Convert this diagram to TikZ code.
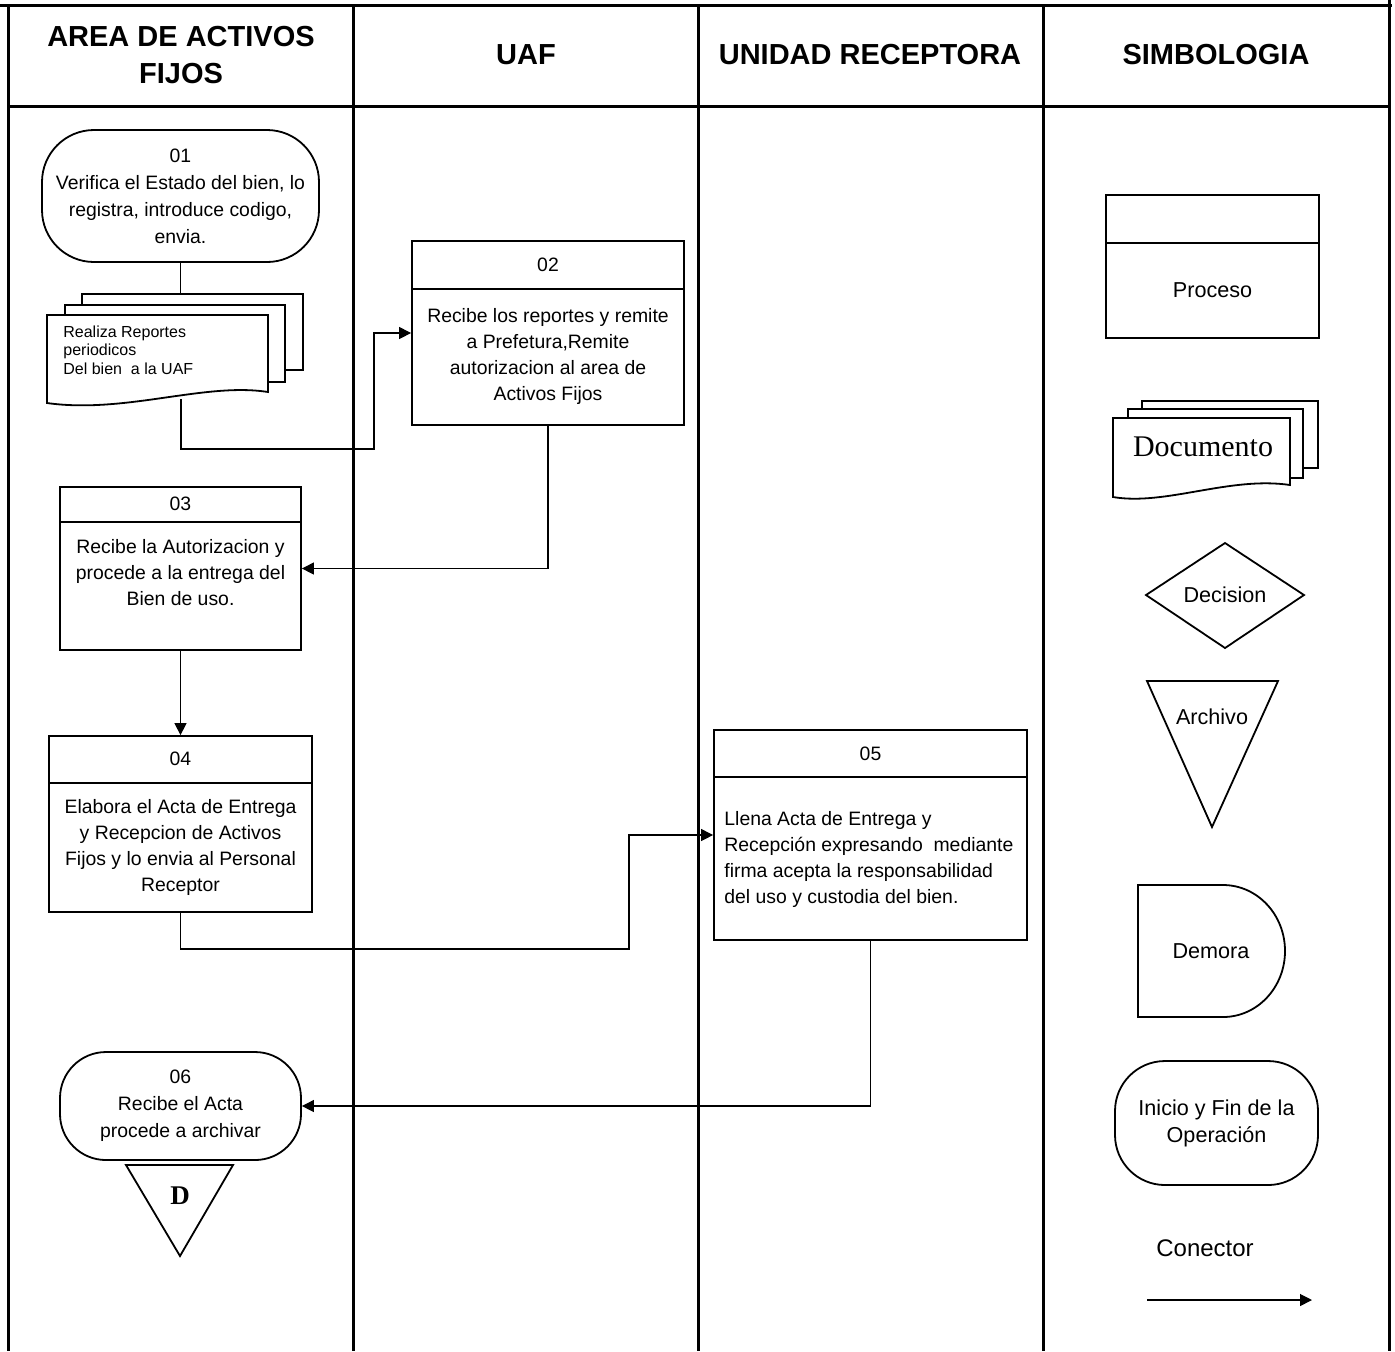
\documentclass[tikz,border=0pt]{standalone}
\usepackage{fontspec}
\setmainfont{Liberation Sans}
\newfontfamily\timesf{Liberation Serif}
\usetikzlibrary{arrows.meta}
\begin{document}
\begin{tikzpicture}[x=0.5pt,y=-0.5pt,
  frame/.style={line width=1.5pt},
  shp/.style={draw,line width=0.9pt,fill=white},
  pbox/.style={shp,rectangle,inner sep=0pt},
  term/.style={shp,rectangle,inner sep=0pt,align=center,font=\fontsize{9.7}{13.5}\selectfont},
  divl/.style={line width=0.9pt},
  conn/.style={line width=0.6pt,-{Triangle[length=6pt,width=6pt]}},
  plain/.style={line width=0.6pt},
  txt/.style={align=center,inner sep=0pt,font=\fontsize{9.7}{13}\selectfont},
  sym/.style={align=center,inner sep=0pt,font=\fontsize{10.8}{13.5}\selectfont},
  hdr/.style={align=center,inner sep=0pt,font=\fontsize{14.5}{18.5}\selectfont\bfseries},
  small/.style={align=left,inner sep=0pt,font=\fontsize{8}{9.2}\selectfont}]
\useasboundingbox (0,0) rectangle (1395,1351);

% ---------- frame ----------
\draw[frame] (0,5) -- (1392,5);
\draw[frame] (8,5) -- (8,1351);
\draw[frame] (1389,0) -- (1389,1351);
\draw[frame] (8,106) -- (1389,106);
\draw[frame] (353,5) -- (353,1351);
\draw[frame] (698,5) -- (698,1351);
\draw[frame] (1043,5) -- (1043,1351);

\node[hdr] (h1) at (181,55) {AREA DE ACTIVOS\\FIJOS};
\node[hdr] (h2) at (526,55) {UAF};
\node[hdr] (h3) at (870,55) {UNIDAD RECEPTORA};
\node[hdr] (h4) at (1216,55) {SIMBOLOGIA};

% ---------- 01 ----------
\node[term,rounded corners=26pt,minimum width=138.5pt,minimum height=66pt] (t01) at (180.5,196)
  {01\\Verifica el Estado del bien, lo\\registra, introduce codigo,\\envia.};

% document stack 1
\node[inner sep=0pt,minimum width=110.5pt,minimum height=38pt] (doc1back) at (192.5,332) {};
\draw[plain] (t01.south) -- (t01.south |- doc1back.north);
\draw[shp] (82,294) rectangle (303,370);
\draw[shp] (65,305) rectangle (285,382);
\draw[shp] (47,315) -- (268,315) -- (268,392) .. controls (205,382) and (125,414) .. (47,403) -- cycle;
\node[small,anchor=west] (doc1txt) at (63,350) {Realiza Reportes\\periodicos\\Del bien\ \ a la UAF};
\coordinate (doc1out) at (181,399);

% ---------- 02 ----------
\node[pbox,minimum width=136pt,minimum height=92pt] (b02) at (548,333) {};
\draw[divl] (412,289) -- (684,289);
\node[txt] (n02) at (548,265) {02};
\node[txt] (x02) at (548,356) {Recibe los reportes y remite\\a Prefetura,Remite\\autorizacion al area de\\Activos Fijos};

% ---------- 03 ----------
\node[pbox,minimum width=120.5pt,minimum height=81.5pt] (b03) at (180.5,568.5) {};
\draw[divl] (60,522) -- (301,522);
\node[txt] (n03) at (180.5,504) {03};
\node[txt] (x03) at (180.5,573) {Recibe la Autorizacion y\\procede a la entrega del\\Bien de uso.};

% ---------- 04 ----------
\node[pbox,minimum width=131.5pt,minimum height=88pt] (b04) at (180.5,824) {};
\draw[divl] (49,783) -- (312,783);
\node[txt] (n04) at (180.5,759) {04};
\node[txt] (x04) at (180.5,847) {Elabora el Acta de Entrega\\y Recepcion de Activos\\Fijos y lo envia al Personal\\Receptor};

% ---------- 05 ----------
\node[pbox,minimum width=156.5pt,minimum height=105pt] (b05) at (870.5,835) {};
\draw[divl] (714,777) -- (1027,777);
\node[txt] (n05) at (870.5,754) {05};
\node[txt,align=left,anchor=west] (x05) at (724,859) {Llena Acta de Entrega y\\Recepci\'on expresando\ \ mediante\\firma acepta la responsabilidad\\del uso y custodia del bien.};

% ---------- 06 ----------
\node[term,rounded corners=23pt,minimum width=120.5pt,minimum height=54pt] (t06) at (180.5,1106)
  {06\\Recibe el Acta\\procede a archivar};
\draw[shp] (126,1165) -- (233,1165) -- (180,1256) -- cycle;
\node[inner sep=0pt,font=\timesf\fontsize{13.5}{14}\selectfont\bfseries] (dlbl) at (180,1196) {D};

% ---------- connectors ----------
\draw[conn] (doc1out) -- (181,449) -- (374,449) |- (b02.west);
\draw[conn] (b02.south) |- (b03.east);
\draw[conn] (b03.south) -- (b04.north);
\draw[conn] (b04.south) |- (629,949) |- (b05.west);
\draw[conn] (b05.south) |- (t06.east);

% ---------- simbologia ----------
\node[pbox,minimum width=106.5pt,minimum height=71.5pt] (sproc) at (1212.5,266.5) {};
\draw[divl] (1106,243) -- (1319,243);
\node[sym] (sproct) at (1212.5,290) {Proceso};

\draw[shp] (1142,401) rectangle (1318,468);
\draw[shp] (1128,409) rectangle (1303,478);
\draw[shp] (1113,418) -- (1290,418) -- (1290,485) .. controls (1230,476) and (1165,506) .. (1113,497) -- cycle;
\node[inner sep=0pt,font=\timesf\fontsize{15}{16}\selectfont] (sdoct) at (1203,447) {Documento};

\draw[shp] (1146,595) -- (1225,543) -- (1304,595) -- (1225,648) -- cycle;
\node[sym] (sdect) at (1225,595) {Decision};

\draw[shp] (1147,681) -- (1278,681) -- (1212,827) -- cycle;
\node[sym] (sarct) at (1212,717) {Archivo};

\draw[shp] (1138,885) -- (1223,885) arc[start angle=90,end angle=-90,x radius=31pt,y radius=33pt] -- (1138,1017) -- cycle;
\node[sym] (sdemt) at (1211,951) {Demora};

\node[shp,rectangle,rounded corners=25pt,inner sep=0pt,minimum width=101.5pt,minimum height=62pt,align=center,font=\fontsize{10.8}{13.5}\selectfont] (sini) at (1216.5,1123) {Inicio y Fin de la\\Operaci\'on};

\node[inner sep=0pt,font=\fontsize{12}{14}\selectfont] (scon) at (1205,1248) {Conector};
\coordinate (sca) at (1147,1300);
\coordinate (scb) at (1312,1300);
\draw[conn] (sca) -- (scb);
\end{tikzpicture}
\end{document}
